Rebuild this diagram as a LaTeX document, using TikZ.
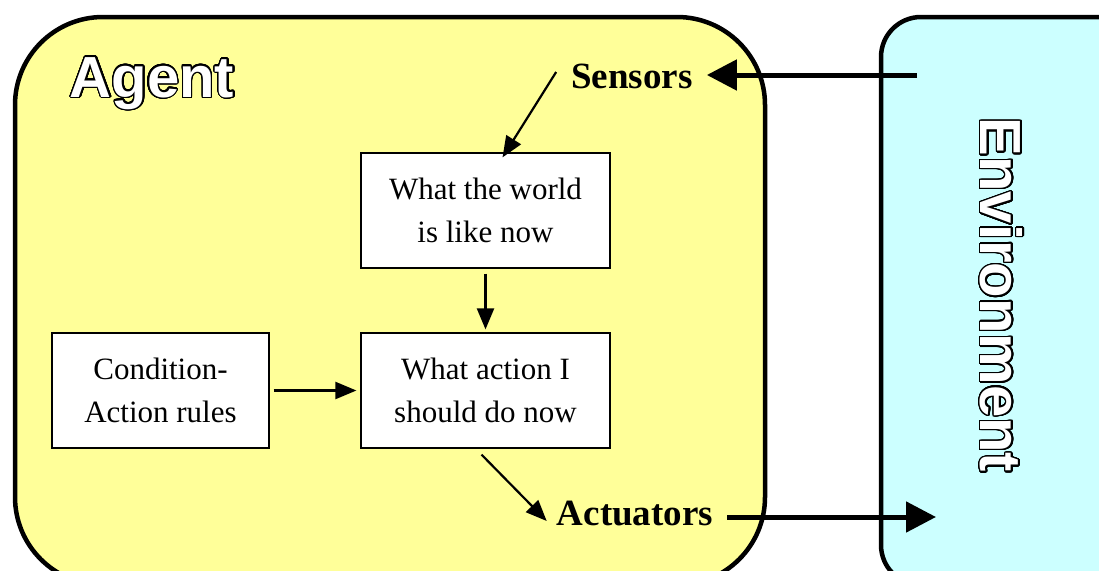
\documentclass[tikz,border=0pt]{standalone}
\usepackage{fontspec}
\setmainfont{Liberation Serif}
\newfontfamily\headfont{Liberation Sans}
\usepackage[copies]{contour}
\contournumber{32}
\usetikzlibrary{arrows.meta}
\definecolor{agentfill}{HTML}{FFFF99}
\definecolor{envfill}{HTML}{CCFFFF}
\tikzset{
  panel/.style={draw=black, line width=4.5pt},
  box/.style={draw=black, line width=1.2pt, fill=white, minimum width=249pt, minimum height=115pt, align=center, inner sep=0pt, font=\fontsize{31}{43}\selectfont},
  label/.style={font=\fontsize{37}{44}\selectfont\bfseries, inner sep=0pt},
  thin/.style={line width=2.2pt, -{Triangle[length=21pt,width=17pt]}},
  thick/.style={line width=5pt, -{Triangle[length=30pt,width=30pt]}},
  title/.style={font=\headfont\bfseries\fontsize{58}{60}\selectfont, inner sep=0pt}
}
\begin{document}
\begin{tikzpicture}[x=1pt,y=-1pt]
\useasboundingbox (0,0) rectangle (1099,570);
\fill[white] (0,0) rectangle (1099,570);
\draw[panel, fill=agentfill, rounded corners=88pt] (15,17) rectangle (765,585);
\draw[panel, fill=envfill, rounded corners=40pt] (881,17) rectangle (1140,585);
\node[title, anchor=base] (agenttitle) at (152,97) {\contourlength{1.4pt}\contour{black}{\textcolor{white}{Agent}}};
\node[title, rotate=-90] (envtitle) at (1001,295) {\contourlength{1.4pt}\contour{black}{\textcolor{white}{Environment}}};
\node[box] (world) at (485.5,210.5) {What the world\\is like now};
\node[box] (action) at (485.5,390.5) {What action I\\should do now};
\node[box, minimum width=217pt] (rules) at (160.5,390.5) {Condition-\\Action rules};
\node[label] (sensors) at (632,76) {Sensors};
\node[label] (actuators) at (635,514) {Actuators};
\coordinate (envin) at (917,75);
\coordinate (envout) at (936,517);
\draw[thin] ([xshift=-15pt,yshift=4pt]sensors.west) -- ([xshift=17pt,yshift=-5pt]world.north west -| world.north);
\draw[thin] ([yshift=-5pt]world.south) -- ([yshift=3pt]action.north);
\draw[thin] ([xshift=4pt]rules.east) -- ([xshift=-4pt]action.west);
\draw[thin] ([xshift=-4pt,yshift=-6pt]action.south) -- ([xshift=-10pt,yshift=-7pt]actuators.west);
\draw[thick] (envin) -- ([xshift=14pt]sensors.east |- envin);
\draw[thick] ([xshift=14pt]actuators.east |- envout) -- (envout);
\end{tikzpicture}
\end{document}
